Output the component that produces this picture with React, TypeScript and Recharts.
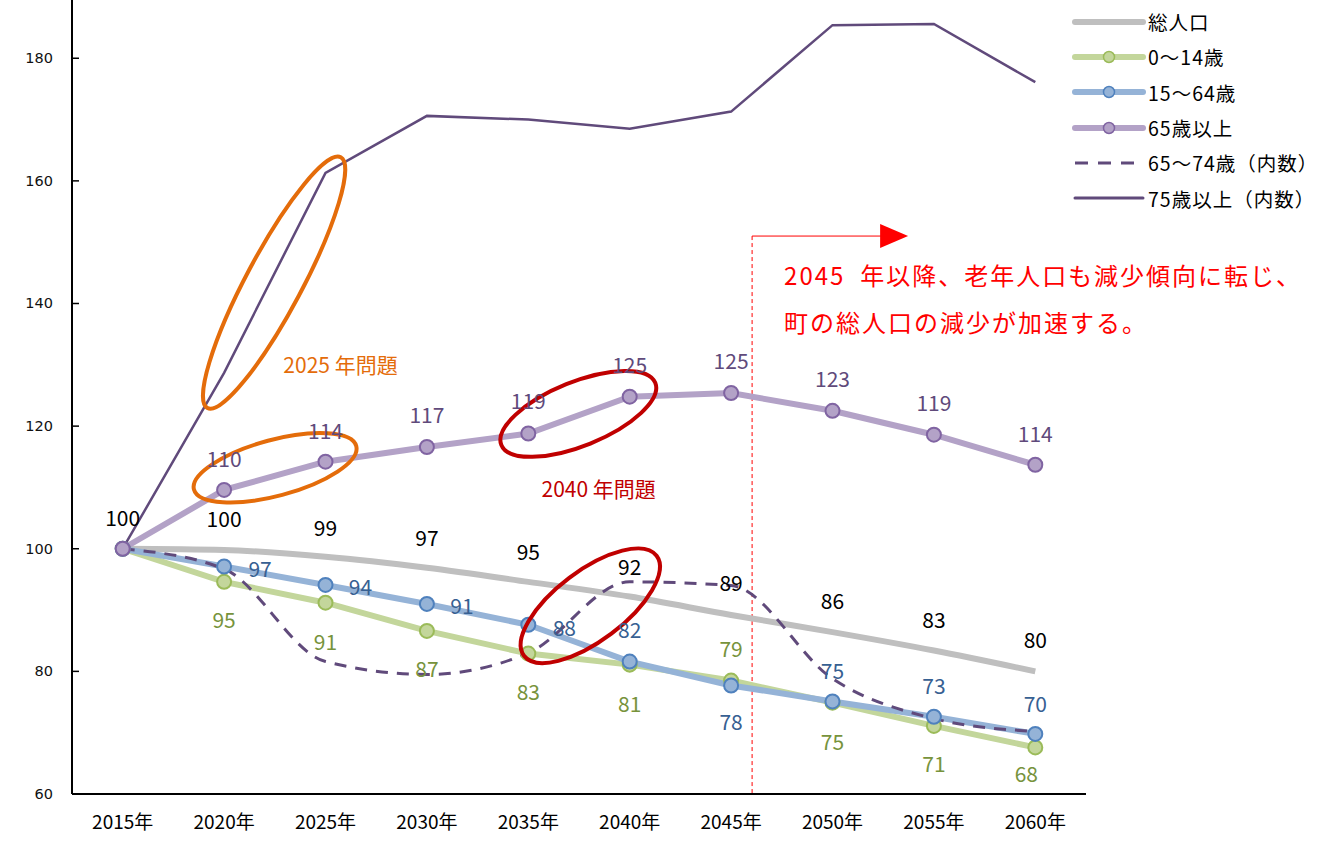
import React from 'react';
import { LineChart, Line, XAxis, YAxis, LabelList, ReferenceDot, ReferenceLine } from 'recharts';

const years = ['2015年', '2020年', '2025年', '2030年', '2035年', '2040年', '2045年', '2050年', '2055年', '2060年'];
const total = [100, 99.8, 98.7, 96.9, 94.6, 92.2, 89.2, 86.4, 83.4, 80.0];
const age0to14 = [100, 94.6, 91.2, 86.6, 82.9, 81.1, 78.5, 74.9, 71.1, 67.6];
const age15to64 = [100, 97.1, 94.1, 91.0, 87.6, 81.6, 77.7, 75.1, 72.6, 69.8];
const age65plus = [100, 109.6, 114.2, 116.6, 118.8, 124.8, 125.4, 122.5, 118.6, 113.7];
const age65to74 = [100, 96.7, 81.6, 79.5, 83.0, 94.6, 94.0, 78.8, 72.3, 70.2];
const age75plus = [100, 128.7, 161.3, 170.6, 170.0, 168.5, 171.3, 185.4, 185.6, 176.1];
const yTicks = [60, 80, 100, 120, 140, 160, 180];

const data = years.map((year, i) => ({
  year,
  total: total[i],
  age0to14: age0to14[i],
  age15to64: age15to64[i],
  age65plus: age65plus[i],
  age65to74: age65to74[i],
  age75plus: age75plus[i],
}));

const FONT = '"Noto Sans CJK JP", "Noto Sans", sans-serif';

// label offsets (dx, dy) from each point, null = no label
const totalLabelOff = [[0, -32], [0, -32], [0, -30], [0, -31], [0, -31], [0, -31], [0, -33], [0, -32], [0, -32], [0, -32]];
const greenLabelOff = [null, [0, 37], [0, 38], [0, 37], [0, 37], [0, 38], [0, -33], [0, 38], [0, 37], [-9, 26]];
const blueLabelOff = [null, [36, 1], [35, 1], [35, 1], [36, 2], [0, -33], [0, 36], [0, -31], [0, -32], [0, -31]];
const purpleLabelOff = [null, [0, -32], [0, -32], [0, -33], [0, -33], [0, -33], [0, -33], [0, -33], [0, -33], [0, -32]];

const makeLabel = (offsets: any[], color: string) => (props: any) => {
  const { x, y, value, index } = props;
  const off = offsets[index];
  if (!off) return null;
  return (
    <text x={x + off[0]} y={y + off[1]} fill={color} fontSize={21} fontFamily={FONT}
      textAnchor="middle" dominantBaseline="central">
      {Math.round(value)}
    </text>
  );
};

const YTick = (props: any) => {
  const { x, y, payload } = props;
  return (
    <g>
      <line x1={x} x2={x + 7} y1={y} y2={y} stroke="#000" strokeWidth={1.5} />
      <text x={x - 19} y={y} textAnchor="end" dominantBaseline="central" fontSize={14.5}
        fontFamily='"DejaVu Sans", sans-serif' fill="#111">{payload.value}</text>
    </g>
  );
};

const ellipses = [
  { x: '2020年', y: 143.4, dx: 50, rx: 142, ry: 28, angle: -62, color: '#E46C0A' },
  { x: '2020年', y: 113.2, dx: 51, rx: 84, ry: 28, angle: -15, color: '#E46C0A' },
  { x: '2035年', y: 122.0, dx: 50, rx: 83, ry: 32, angle: -22, color: '#C00000' },
  { x: '2035年', y: 90.7, dx: 62, rx: 83, ry: 35, angle: -37, color: '#C00000' },
];

const notes = [
  { x: '2025年', y: 130.2, dx: 15, text: '2025 年問題', color: '#E46C0A' },
  { x: '2040年', y: 109.9, dx: -31, text: '2040 年問題', color: '#C00000' },
];

const legendItems = [
  { name: '総人口', color: '#BFBFBF', width: 6, dot: null, dash: undefined },
  { name: '0〜14歳', color: '#C3D69B', width: 6, dot: '#9BBB59', dash: undefined },
  { name: '15〜64歳', color: '#95B3D7', width: 6, dot: '#4F81BD', dash: undefined },
  { name: '65歳以上', color: '#B3A2C7', width: 6, dot: '#8064A2', dash: undefined },
  { name: '65〜74歳（内数）', color: '#604A7B', width: 3, dot: null, dash: '13 10' },
  { name: '75歳以上（内数）', color: '#604A7B', width: 3, dot: null, dash: undefined },
];

const ArrowNote = (props: any) => {
  const { x1, y1, y2 } = props;
  const xx = x1 + 21;
  return (
    <g>
      <line x1={xx} y1={y1} x2={xx} y2={y2} stroke="#FF0000" strokeWidth={1} strokeDasharray="4 3" />
      <line x1={xx} y1={y1} x2={xx + 130} y2={y1} stroke="#FF0000" strokeWidth={1} />
      <polygon points={`${xx + 128},${y1 - 12} ${xx + 156},${y1} ${xx + 128},${y1 + 12}`} fill="#FF0000" />
      <text x={xx + 32} y={y1 + 38} fill="#FF0000" fontSize={24} letterSpacing={2} fontFamily={FONT}
        dominantBaseline="central" style={{ whiteSpace: 'pre' }}>{'2045  年以降、老年人口も減少傾向に転じ、'}</text>
      <text x={xx + 32} y={y1 + 85} fill="#FF0000" fontSize={24} letterSpacing={2} fontFamily={FONT}
        dominantBaseline="central">町の総人口の減少が加速する。</text>
    </g>
  );
};

const Legend = () => (
  <div style={{ position: 'absolute', left: 1072, top: 4, width: 269 }}>
    {legendItems.map((item) => (
      <div key={item.name} style={{ height: 35.3, display: 'flex', alignItems: 'center' }}>
        <svg width={76} height={20}>
          <line x1={3} x2={71} y1={10} y2={10} stroke={item.color} strokeWidth={item.width}
            strokeLinecap={item.dash ? 'butt' : 'round'} strokeDasharray={item.dash} />
          {item.dot && <circle cx={37} cy={10} r={5.5} fill={item.color} stroke={item.dot} strokeWidth={1.5} />}
        </svg>
        <span style={{ fontFamily: FONT, fontSize: 19.5, letterSpacing: 1, color: '#000', whiteSpace: 'nowrap' }}>{item.name}</span>
      </div>
    ))}
  </div>
);

export default function App() {
  return (
    <div style={{ position: 'absolute', left: 0, top: 0, width: 1341, height: 841, background: '#fff' }}>
      <LineChart width={1341} height={841} data={data} margin={{ top: 0, right: 255, bottom: 0, left: 0 }}>
        <XAxis dataKey="year" padding={{ left: 50.7, right: 50.7 }} tickLine={false} tickSize={0} tickMargin={22}
          axisLine={{ stroke: '#000', strokeWidth: 2 }} height={47}
          tick={{ fontSize: 19, fill: '#000', fontFamily: FONT }} interval={0} />
        <YAxis type="number" domain={[60, 189.5]} ticks={yTicks} width={72} tickLine={false} tickSize={0}
          tickMargin={0} axisLine={{ stroke: '#000', strokeWidth: 2 }} tick={<YTick />} />

        <ReferenceLine segment={[{ x: '2045年', y: 151 }, { x: '2045年', y: 60 }]} shape={<ArrowNote />} />

        <Line dataKey="total" type="monotone" stroke="#BFBFBF" strokeWidth={6} dot={false} isAnimationActive={false}>
          <LabelList dataKey="total" content={makeLabel(totalLabelOff, '#000')} />
        </Line>
        <Line dataKey="age0to14" type="linear" stroke="#C3D69B" strokeWidth={6}
          dot={{ r: 7, fill: '#C3D69B', stroke: '#9BBB59', strokeWidth: 2 }} isAnimationActive={false}>
          <LabelList dataKey="age0to14" content={makeLabel(greenLabelOff, '#77933C')} />
        </Line>
        <Line dataKey="age15to64" type="linear" stroke="#95B3D7" strokeWidth={6}
          dot={{ r: 7, fill: '#95B3D7', stroke: '#4F81BD', strokeWidth: 2 }} isAnimationActive={false}>
          <LabelList dataKey="age15to64" content={makeLabel(blueLabelOff, '#376092')} />
        </Line>
        <Line dataKey="age65plus" type="linear" stroke="#B3A2C7" strokeWidth={6}
          dot={{ r: 7, fill: '#B3A2C7', stroke: '#8064A2', strokeWidth: 2 }} isAnimationActive={false}>
          <LabelList dataKey="age65plus" content={makeLabel(purpleLabelOff, '#604A7B')} />
        </Line>
        <Line dataKey="age65to74" type="monotone" stroke="#604A7B" strokeWidth={3} strokeDasharray="12 9"
          dot={false} isAnimationActive={false} />
        <Line dataKey="age75plus" type="linear" stroke="#604A7B" strokeWidth={2.5} dot={false} isAnimationActive={false} />

        {ellipses.map((e, i) => (
          <ReferenceDot key={'e' + i} x={e.x} y={e.y} r={1}
            shape={(p: any) => (
              <ellipse cx={p.cx + e.dx} cy={p.cy} rx={e.rx} ry={e.ry} fill="none" stroke={e.color} strokeWidth={4}
                transform={`rotate(${e.angle} ${p.cx + e.dx} ${p.cy})`} />
            )} />
        ))}
        {notes.map((n, i) => (
          <ReferenceDot key={'n' + i} x={n.x} y={n.y} r={1}
            shape={(p: any) => (
              <text x={p.cx + n.dx} y={p.cy} fill={n.color} fontSize={21} fontFamily={FONT}
                textAnchor="middle" dominantBaseline="central">{n.text}</text>
            )} />
        ))}
      </LineChart>
      <Legend />
    </div>
  );
}
